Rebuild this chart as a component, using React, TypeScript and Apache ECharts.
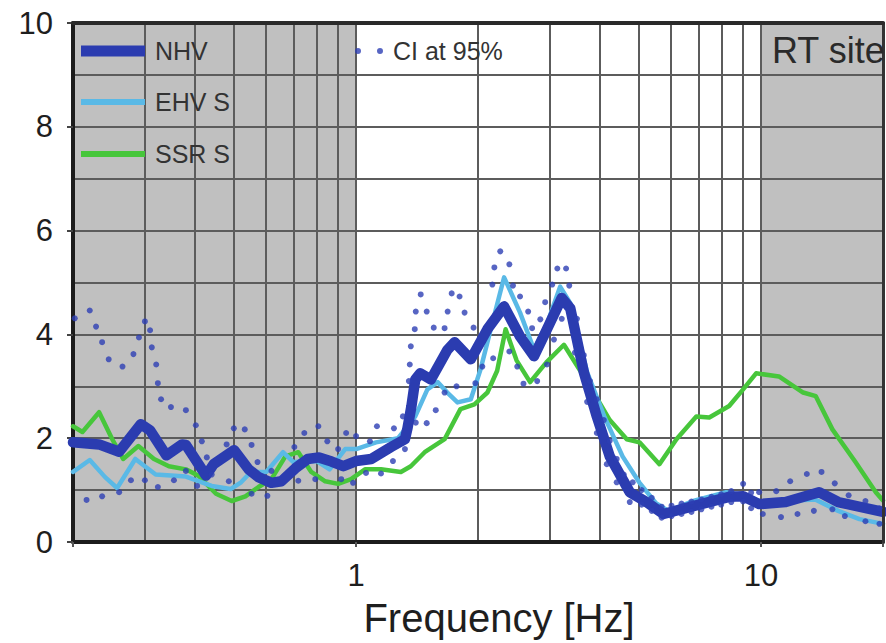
import React, { useEffect, useRef } from 'react';
import * as echarts from 'echarts';

// [frequency Hz, amplitude]
const nhv: number[][] = [
  [0.2, 1.92], [0.232, 1.88], [0.26, 1.74], [0.294, 2.27], [0.31, 2.15], [0.34, 1.67],
  [0.372, 1.88], [0.38, 1.87], [0.426, 1.28], [0.445, 1.5], [0.5, 1.77], [0.543, 1.4],
  [0.574, 1.25], [0.618, 1.14], [0.654, 1.17], [0.708, 1.42], [0.76, 1.6], [0.81, 1.63],
  [0.87, 1.55], [0.93, 1.46], [1.0, 1.56], [1.09, 1.6], [1.22, 1.83], [1.32, 1.98],
  [1.34, 2.2], [1.37, 2.62], [1.4, 3.13], [1.44, 3.25], [1.53, 3.13], [1.68, 3.7],
  [1.75, 3.85], [1.92, 3.52], [2.11, 4.1], [2.32, 4.54], [2.54, 3.96], [2.75, 3.58],
  [2.96, 4.1], [3.22, 4.7], [3.38, 4.5], [3.65, 3.27], [3.93, 2.42], [4.23, 1.65],
  [4.74, 0.96], [5.21, 0.77], [5.74, 0.54], [6.8, 0.69], [8.34, 0.87], [9.03, 0.88],
  [9.89, 0.73], [11.5, 0.77], [13.9, 0.96], [15.5, 0.77], [20, 0.58],
];

const ehvS: number[][] = [
  [0.2, 1.35], [0.22, 1.58], [0.24, 1.25], [0.257, 1.04], [0.285, 1.6], [0.32, 1.3],
  [0.38, 1.26], [0.44, 1.08], [0.49, 1.02], [0.52, 1.15], [0.55, 1.35], [0.6, 1.35],
  [0.66, 1.73], [0.7, 1.54], [0.8, 1.56], [0.86, 1.4], [0.94, 1.79], [1.0, 1.79],
  [1.12, 1.92], [1.27, 2.0], [1.4, 2.42], [1.5, 2.94], [1.59, 3.08], [1.68, 2.88],
  [1.78, 2.69], [1.92, 2.75], [2.03, 3.33], [2.15, 4.1], [2.32, 5.1], [2.54, 4.42],
  [2.75, 3.71], [2.96, 4.2], [3.19, 4.92], [3.38, 4.6], [3.72, 3.27], [4.1, 2.42],
  [4.55, 1.65], [5.0, 1.15], [5.5, 0.75], [5.9, 0.6], [6.8, 0.79], [8.2, 0.96],
  [9.0, 0.9], [10, 0.78], [12, 0.8], [13.6, 0.82], [15.5, 0.6], [17.5, 0.44], [20, 0.35],
];

const ssrS: number[][] = [
  [0.2, 2.23], [0.211, 2.12], [0.232, 2.5], [0.25, 1.98], [0.266, 1.6], [0.29, 1.85],
  [0.317, 1.6], [0.345, 1.46], [0.38, 1.4], [0.409, 1.27], [0.451, 0.93], [0.493, 0.79],
  [0.533, 0.88], [0.574, 1.06], [0.618, 1.21], [0.669, 1.65], [0.72, 1.73], [0.775, 1.35],
  [0.839, 1.17], [0.903, 1.12], [0.972, 1.21], [1.052, 1.4], [1.152, 1.4], [1.29, 1.35],
  [1.365, 1.46], [1.477, 1.73], [1.654, 1.98], [1.81, 2.56], [1.96, 2.65], [2.11, 2.88],
  [2.23, 3.3], [2.34, 4.1], [2.49, 3.5], [2.69, 3.08], [2.95, 3.46], [3.26, 3.8],
  [3.78, 3.0], [4.23, 2.35], [4.66, 1.98], [5.01, 1.92], [5.61, 1.5], [6.18, 1.98],
  [6.92, 2.42], [7.45, 2.4], [8.34, 2.62], [9.03, 2.94], [9.72, 3.25], [11.07, 3.19],
  [12.7, 2.88], [13.65, 2.81], [15.0, 2.17], [17.1, 1.54], [19.2, 0.96], [20, 0.8],
];

const ciUpper: number[][] = [
  [0.202, 4.31], [0.22, 4.46], [0.228, 4.15], [0.236, 3.85], [0.245, 3.52], [0.265, 3.38],
  [0.282, 3.62], [0.291, 3.94], [0.301, 4.25], [0.31, 4.08], [0.313, 3.75], [0.321, 3.42],
  [0.324, 3.06], [0.33, 2.75], [0.349, 2.6], [0.38, 2.54], [0.402, 2.25], [0.416, 1.94],
  [0.428, 1.63], [0.479, 1.88], [0.499, 2.19], [0.531, 2.17], [0.552, 1.87], [0.571, 1.54],
  [0.618, 1.37], [0.704, 1.83], [0.745, 2.1], [0.807, 2.23], [0.849, 1.94], [0.903, 1.79],
  [0.945, 2.1], [1.0, 2.04], [1.082, 1.94], [1.126, 2.23], [1.24, 2.19], [1.305, 2.42],
  [1.35, 3.1], [1.357, 3.42], [1.365, 3.77], [1.396, 4.1], [1.404, 4.44], [1.444, 4.77],
  [1.494, 4.44], [1.555, 4.13], [1.654, 4.12], [1.683, 4.44], [1.722, 4.79], [1.801, 4.73],
  [1.853, 4.42], [1.95, 4.13], [2.17, 4.96], [2.195, 5.29], [2.27, 5.6], [2.39, 5.35],
  [2.44, 4.94], [2.54, 4.73], [2.66, 4.44], [2.72, 4.12], [2.85, 4.29], [2.93, 4.62],
  [3.05, 4.96], [3.14, 5.27], [3.3, 5.27], [3.36, 4.94], [3.51, 4.3], [3.65, 3.6],
  [3.78, 3.1], [3.93, 2.75], [4.09, 2.35], [4.23, 1.95], [4.4, 1.6], [4.58, 1.3],
  [4.82, 1.15], [5.07, 1.0], [5.37, 0.85], [5.68, 0.68], [6.01, 0.7], [6.36, 0.74],
  [6.73, 0.78], [7.12, 0.82], [7.54, 0.87], [7.97, 0.92], [8.44, 0.98], [9.03, 1.12],
  [9.45, 0.95], [9.89, 0.96], [10.9, 0.98], [11.8, 1.17], [12.97, 1.31], [14.1, 1.35],
  [15.2, 1.13], [16.45, 0.9], [18.1, 0.79], [19.6, 0.65],
];

const ciLower: number[][] = [
  [0.216, 0.81], [0.236, 0.88], [0.26, 0.96], [0.278, 1.19], [0.301, 1.19], [0.324, 1.06],
  [0.355, 1.19], [0.38, 1.37], [0.405, 1.08], [0.44, 1.3], [0.485, 1.17], [0.552, 0.93],
  [0.604, 0.89], [0.72, 1.18], [0.793, 1.21], [0.919, 1.21], [0.983, 1.14], [1.058, 1.33],
  [1.152, 1.32], [1.233, 1.56], [1.32, 1.79], [1.404, 2.3], [1.494, 2.29], [1.573, 2.54],
  [1.654, 2.88], [1.77, 3.0], [1.97, 3.06], [2.05, 3.38], [2.18, 3.54], [2.39, 3.67],
  [2.5, 3.38], [2.59, 3.05], [2.8, 3.1], [2.96, 3.42], [3.08, 3.9], [3.22, 4.3],
  [3.47, 3.65], [3.72, 2.7], [3.93, 2.1], [4.16, 1.5], [4.4, 1.15], [4.74, 0.77],
  [5.07, 0.72], [5.37, 0.6], [5.68, 0.47], [6.01, 0.5], [6.36, 0.54], [6.73, 0.58],
  [7.12, 0.63], [7.54, 0.68], [7.97, 0.72], [8.44, 0.77], [9.03, 0.78], [9.45, 0.65],
  [10.1, 0.54], [11.2, 0.48], [12.3, 0.54], [13.5, 0.6], [15.0, 0.63], [16.1, 0.5],
  [18.1, 0.4], [19.6, 0.35],
];

const freqGridLines = [0.3, 0.4, 0.5, 0.6, 0.7, 0.8, 0.9, 1, 2, 3, 4, 5, 6, 7, 8, 9, 10];
const shadedBands = [[0.2, 1], [10, 20]];
const xLabelValues = [1, 10];

const FONT = 'Liberation Sans, Arial, Helvetica, sans-serif';
const C_NHV = '#2b3cb0';
const C_EHV = '#5ab9e6';
const C_SSR = '#47c63b';
const C_CI = '#2d3eb4';
const C_GRID = '#5c5c5c';
const C_TEXT = '#1e1e1e';

export default function App() {
  const ref = useRef<HTMLDivElement>(null);

  useEffect(() => {
    if (!ref.current) return;
    const chart = echarts.init(ref.current, null, { renderer: 'svg' });
    const showX = (v: number) => xLabelValues.find((t) => Math.abs(v - t) < 1e-6 * t);

    const legendText = () => ({
      fontSize: 25,
      color: '#333333',
      fontFamily: FONT,
      lineHeight: 26,
      padding: [0, 0, 0, 5],
    });

    chart.setOption({
      animation: false,
      textStyle: { fontFamily: FONT },
      grid: { left: 73, top: 23, width: 812, height: 520, containLabel: false },
      title: {
        text: 'RT site',
        left: 772,
        top: 32,
        padding: 0,
        textStyle: { fontSize: 36, fontWeight: 'normal', color: '#2a2a2a', fontFamily: FONT, lineHeight: 36 },
      },
      legend: [
        {
          data: ['NHV'], left: 81, top: 38, padding: 0, itemWidth: 64, itemHeight: 11,
          icon: 'rect', selectedMode: false, textStyle: legendText(),
        },
        {
          data: ['EHV S'], left: 81, top: 89, padding: 0, itemWidth: 64, itemHeight: 6,
          icon: 'rect', selectedMode: false, textStyle: legendText(),
        },
        {
          data: ['SSR S'], left: 81, top: 141, padding: 0, itemWidth: 64, itemHeight: 6,
          icon: 'rect', selectedMode: false, textStyle: legendText(),
        },
        {
          data: ['CI at 95%'], left: 355, top: 38, padding: 0, itemWidth: 28, itemHeight: 6,
          icon: 'path://M0,3a3,3 0 1,0 6,0a3,3 0 1,0 -6,0M22,3a3,3 0 1,0 6,0a3,3 0 1,0 -6,0',
          selectedMode: false, textStyle: legendText(),
        },
      ],
      xAxis: [
        {
          type: 'log', logBase: 10, min: 0.2, max: 20, position: 'bottom', z: 2,
          axisLine: { show: true, onZero: false, lineStyle: { color: '#1c1c1c', width: 4 } },
          axisTick: { show: true, length: 5, lineStyle: { color: '#555', width: 2 } },
          axisLabel: {
            formatter: (v: number) => { const t = showX(v); return t ? String(t) : ''; },
            fontSize: 31, color: C_TEXT, margin: 18, fontFamily: FONT,
          },
          splitLine: { show: false },
          name: 'Frequency [Hz]', nameLocation: 'middle', nameGap: 56,
          nameTextStyle: { fontSize: 40, color: C_TEXT, fontFamily: FONT, padding: [0, 0, 0, 42] },
        },
        {
          type: 'log', logBase: 10, min: 0.2, max: 20, position: 'top', z: 6,
          axisLine: { show: true, onZero: false, lineStyle: { color: '#2a2a2a', width: 4 } },
          axisTick: { show: false }, axisLabel: { show: false }, splitLine: { show: false },
        },
      ],
      yAxis: [
        {
          type: 'value', min: 0, max: 10, interval: 2, z: 2,
          axisLine: { show: true, lineStyle: { color: '#1c1c1c', width: 4 } },
          axisTick: { show: true, length: 6, lineStyle: { color: '#444', width: 2 } },
          axisLabel: { fontSize: 31, color: C_TEXT, margin: 20, fontFamily: FONT },
          splitLine: { show: true, lineStyle: { color: C_GRID, width: 2 } },
          minorTick: { show: false, splitNumber: 2 },
          minorSplitLine: { show: true, lineStyle: { color: C_GRID, width: 2 } },
        },
        {
          type: 'value', min: 0, max: 10, position: 'right', z: 6,
          axisLine: { show: true, lineStyle: { color: '#333', width: 3 } },
          axisTick: { show: false }, axisLabel: { show: false }, splitLine: { show: false },
        },
      ],
      series: [
        {
          name: 'SSR S', type: 'line', data: ssrS, z: 3, symbol: 'none', silent: true,
          lineStyle: { color: C_SSR, width: 4.5, cap: 'round', join: 'round' },
          itemStyle: { color: C_SSR },
          markArea: {
            silent: true, z: 1,
            itemStyle: { color: '#c0c0c0' },
            data: shadedBands.map(([a, b]) => [{ xAxis: a }, { xAxis: b }]),
          },
          markLine: {
            silent: true, z: 2, symbol: ['none', 'none'],
            label: { show: false }, emphasis: { disabled: true },
            lineStyle: { color: C_GRID, width: 2, type: 'solid' },
            data: freqGridLines.map((v) => ({ xAxis: v })),
          },
        },
        {
          name: 'EHV S', type: 'line', data: ehvS, z: 4, symbol: 'none', silent: true,
          lineStyle: { color: C_EHV, width: 4.5, cap: 'round', join: 'round' },
          itemStyle: { color: C_EHV },
        },
        {
          name: 'NHV', type: 'line', data: nhv, z: 5, symbol: 'none', silent: true,
          lineStyle: { color: C_NHV, width: 10.5, cap: 'round', join: 'round' },
          itemStyle: { color: C_NHV },
        },
        {
          name: 'CI at 95%', type: 'scatter', data: ciUpper, z: 6, symbolSize: 6, silent: true,
          itemStyle: { color: C_CI },
        },
        {
          name: 'CI at 95%', type: 'scatter', data: ciLower, z: 6, symbolSize: 6, silent: true,
          itemStyle: { color: C_CI },
        },
      ],
    });

    return () => chart.dispose();
  }, []);

  return (
    <div
      ref={ref}
      style={{ position: 'fixed', left: 0, top: 0, width: 886, height: 643, background: '#fff' }}
    />
  );
}
